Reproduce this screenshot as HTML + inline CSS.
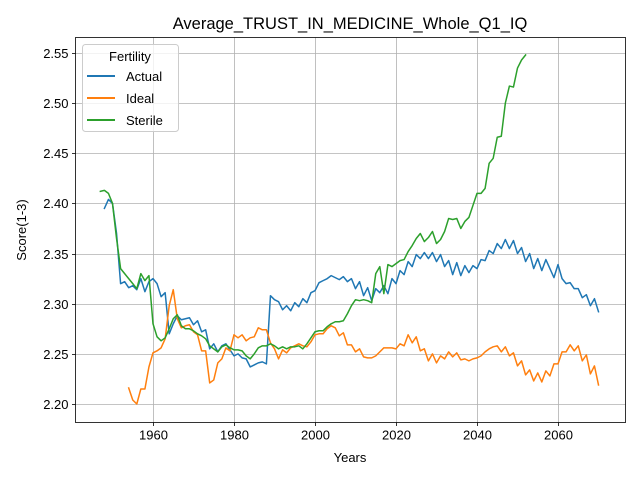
<!DOCTYPE html>
<html><head><meta charset="utf-8"><style>
body{margin:0;background:#fff}
svg{display:block;font-family:"Liberation Sans","DejaVu Sans",sans-serif}
</style></head><body>
<svg id="chart" width="640" height="480">
<rect width="640" height="480" fill="#fff"/>
<g id="grid"></g>
<g id="series"></g>
<rect x="75.5" y="37.5" width="550" height="385" fill="none" stroke="#000" stroke-width="0.8"/>
<g id="ticks" font-size="13" fill="#000"></g>
<text x="350" y="29" font-size="16.5" text-anchor="middle">Average_TRUST_IN_MEDICINE_Whole_Q1_IQ</text>
<text x="350" y="462" font-size="13" text-anchor="middle">Years</text>
<text transform="translate(26,230) rotate(-90)" font-size="13" text-anchor="middle">Score(1-3)</text>
<g>
<rect x="82.5" y="44.5" width="96" height="87" rx="3" fill="#fff" fill-opacity="0.8" stroke="#ccc"/>
<text x="130" y="61" font-size="13" text-anchor="middle">Fertility</text>
<g><line x1="87" x2="115" y1="76" y2="76" stroke="#1f77b4" stroke-width="2"/><text x="126" y="81" font-size="13">Actual</text></g>
<g><line x1="87" x2="115" y1="98" y2="98" stroke="#ff7f0e" stroke-width="2"/><text x="126" y="103" font-size="13">Ideal</text></g>
<g><line x1="87" x2="115" y1="120" y2="120" stroke="#2ca02c" stroke-width="2"/><text x="126" y="125" font-size="13">Sterile</text></g>
</g>
</svg>
<script>
const xTicks=[1960,1980,2000,2020,2040,2060];
const yTicks=[2.20,2.25,2.30,2.35,2.40,2.45,2.50,2.55];
const actualStart=1948;
const actual=[2.395,2.404,2.40,2.37,2.32,2.322,2.316,2.318,2.314,2.325,2.312,2.322,2.325,2.32,2.307,2.311,2.27,2.28,2.288,2.284,2.285,2.286,2.279,2.283,2.272,2.274,2.255,2.26,2.252,2.258,2.26,2.254,2.248,2.25,2.246,2.245,2.237,2.239,2.241,2.242,2.24,2.308,2.304,2.302,2.294,2.298,2.293,2.301,2.297,2.305,2.301,2.311,2.313,2.321,2.323,2.325,2.328,2.326,2.324,2.327,2.322,2.325,2.315,2.322,2.308,2.316,2.303,2.315,2.311,2.318,2.31,2.325,2.32,2.333,2.329,2.342,2.337,2.349,2.345,2.351,2.345,2.351,2.342,2.349,2.337,2.343,2.329,2.341,2.328,2.338,2.331,2.338,2.335,2.344,2.343,2.353,2.35,2.36,2.355,2.364,2.355,2.363,2.35,2.356,2.342,2.35,2.335,2.345,2.333,2.344,2.335,2.326,2.339,2.325,2.32,2.321,2.315,2.315,2.306,2.309,2.298,2.305,2.292];
const idealStart=1954;
const ideal=[2.216,2.204,2.2,2.215,2.215,2.237,2.251,2.253,2.256,2.265,2.298,2.314,2.285,2.276,2.278,2.279,2.272,2.269,2.253,2.253,2.221,2.224,2.241,2.245,2.256,2.253,2.269,2.266,2.269,2.263,2.266,2.267,2.276,2.274,2.274,2.261,2.255,2.245,2.254,2.251,2.256,2.258,2.26,2.258,2.257,2.262,2.269,2.27,2.27,2.275,2.278,2.276,2.268,2.271,2.259,2.259,2.252,2.255,2.247,2.246,2.246,2.248,2.252,2.256,2.256,2.256,2.255,2.26,2.258,2.269,2.261,2.267,2.253,2.255,2.243,2.25,2.241,2.248,2.245,2.252,2.247,2.251,2.244,2.245,2.243,2.245,2.246,2.248,2.252,2.255,2.257,2.258,2.252,2.257,2.248,2.251,2.238,2.243,2.229,2.234,2.223,2.231,2.222,2.233,2.228,2.24,2.24,2.252,2.252,2.259,2.253,2.258,2.243,2.249,2.23,2.238,2.219];
const sterileStart=1947;
const sterile=[2.412,2.413,2.41,2.4,2.365,2.335,2.33,2.325,2.32,2.315,2.33,2.323,2.328,2.28,2.267,2.263,2.266,2.275,2.285,2.289,2.278,2.275,2.275,2.273,2.27,2.268,2.265,2.258,2.255,2.252,2.257,2.259,2.256,2.254,2.254,2.253,2.248,2.245,2.25,2.256,2.258,2.258,2.26,2.258,2.255,2.257,2.255,2.257,2.257,2.258,2.255,2.26,2.266,2.272,2.273,2.273,2.277,2.28,2.282,2.282,2.283,2.29,2.298,2.304,2.303,2.304,2.303,2.301,2.33,2.337,2.31,2.339,2.337,2.34,2.343,2.344,2.352,2.358,2.365,2.37,2.362,2.366,2.372,2.36,2.364,2.372,2.385,2.384,2.385,2.375,2.382,2.386,2.398,2.41,2.41,2.415,2.44,2.445,2.466,2.467,2.5,2.517,2.516,2.535,2.543,2.548];

const NS='http://www.w3.org/2000/svg';
const L=75.5,R=625.5,T=37.5,B=422.5;
function xs(v){return 153+(v-1960)*4.05;}
function ys(v){return 404-(v-2.20)*1002.9;}
const grid=document.getElementById('grid'),ticks=document.getElementById('ticks'),ser=document.getElementById('series');
function mk(tag,attrs,parent){const e=document.createElementNS(NS,tag);for(const k in attrs)e.setAttribute(k,attrs[k]);parent.appendChild(e);return e;}
xTicks.forEach(t=>{const x=Math.round(xs(t))+0.5;
 const g=mk('line',{x1:x,x2:x,y1:T,y2:B,stroke:'#b0b0b0','stroke-width':0.8},grid);
 
 
 mk('line',{x1:x,x2:x,y1:B,y2:B+3.5,stroke:'#000','stroke-width':0.8},ticks);
 const tx=mk('text',{x:x,y:B+17,'text-anchor':'middle'},ticks);tx.textContent=t;
 
 
});
yTicks.forEach(t=>{const y=Math.round(ys(t))+0.5;
 const g=mk('line',{x1:L,x2:R,y1:y,y2:y,stroke:'#b0b0b0','stroke-width':0.8},grid);
 
 
 mk('line',{x1:L-3.5,x2:L,y1:y,y2:y,stroke:'#000','stroke-width':0.8},ticks);
 const tx=mk('text',{x:L-7,y:y+4.5,'text-anchor':'end'},ticks);tx.textContent=t.toFixed(2);
 
 
});
function line(start,vals,color,name){
 const pts=vals.map((v,i)=>xs(start+i).toFixed(2)+','+ys(v).toFixed(2)).join(' ');
 const p=mk('polyline',{points:pts,fill:'none',stroke:color,'stroke-width':1.5,'stroke-linejoin':'round','stroke-linecap':'square'},ser);
 
 
}
line(actualStart,actual,'#1f77b4','actual-line');
line(idealStart,ideal,'#ff7f0e','ideal-line');
line(sterileStart,sterile,'#2ca02c','sterile-line');
</script>
</body></html>
